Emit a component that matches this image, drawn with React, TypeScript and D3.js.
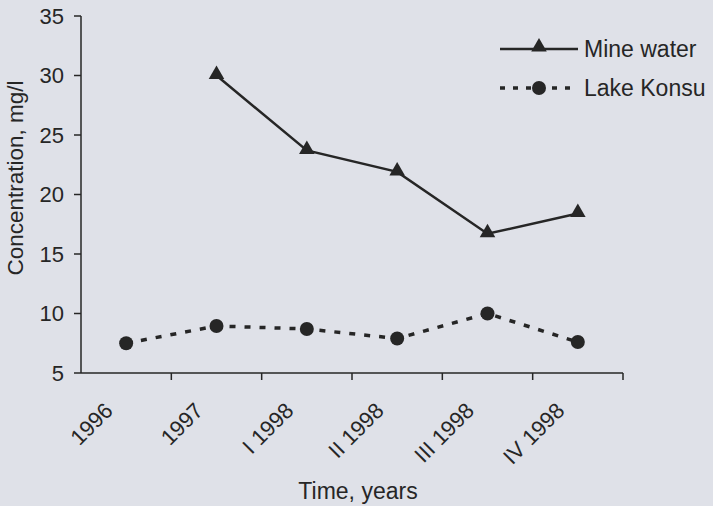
import React from "react";
import * as d3 from "d3";

const categories = ["1996", "1997", "I 1998", "II 1998", "III 1998", "IV 1998"];
const mineWater: (number | null)[] = [null, 30.0, 23.7, 21.9, 16.7, 18.4];
const lakeKonsu: number[] = [7.5, 8.95, 8.7, 7.9, 10.0, 7.6];
const yTicks = [5, 10, 15, 20, 25, 30, 35];
const seriesNames = ["Mine water", "Lake Konsu"];

const W = 713;
const H = 506;
const FONT = "'Liberation Sans', Arial, Helvetica, sans-serif";
const INK = "#262626";
const BG = "#dfe1e8";

export default function App() {
  const x = d3.scaleBand<string>().domain(categories).range([81, 623]).padding(0);
  const y = d3.scaleLinear().domain([5, 35]).range([373, 16]);
  const cx = (c: string) => (x(c) as number) + x.bandwidth() / 2;

  const mineLine = d3
    .line<number | null>()
    .defined((d) => d !== null)
    .x((_, i) => cx(categories[i]))
    .y((d) => y(d as number));
  const lakeLine = d3
    .line<number>()
    .x((_, i) => cx(categories[i]))
    .y((d) => y(d));

  const tri = d3.symbol().type(d3.symbolTriangle).size(105)() as string;
  const boundaries = categories.map((c) => (x(c) as number) + x.bandwidth());

  const legendX0 = 500;
  const legendX1 = 578;
  const legendMid = 539;
  const legendY = [49, 88];

  return (
    <div style={{ position: "fixed", left: 0, top: 0 }}>
      <svg width={W} height={H} style={{ display: "block", background: BG }} fontFamily={FONT}>
        <rect x={0} y={0} width={W} height={H} fill={BG} />
        {/* Y axis */}
        <line x1={81} x2={81} y1={y(35)} y2={y(5)} stroke={INK} strokeWidth={1.5} />
        {yTicks.map((t) => (
          <g key={t}>
            <line x1={74} x2={81} y1={y(t)} y2={y(t)} stroke={INK} strokeWidth={1.5} />
            <text x={64} y={y(t)} dy="0.36em" textAnchor="end" fontSize={22} fill={INK}>
              {t}
            </text>
          </g>
        ))}
        {/* X axis */}
        <line x1={81} x2={623} y1={y(5)} y2={y(5)} stroke={INK} strokeWidth={1.5} />
        {boundaries.map((b, i) => (
          <line key={i} x1={b} x2={b} y1={y(5)} y2={y(5) + 7} stroke={INK} strokeWidth={1.5} />
        ))}
        {categories.map((c) => (
          <text
            key={c}
            transform={`translate(${cx(c) - 12},${412}) rotate(-45)`}
            textAnchor="end"
            fontSize={22}
            fill={INK}
          >
            {c}
          </text>
        ))}
        {/* Axis titles */}
        <text x={358} y={499} textAnchor="middle" fontSize={23} fill={INK}>
          Time, years
        </text>
        <text
          transform={`translate(${23},${178}) rotate(-90)`}
          textAnchor="middle"
          fontSize={22.5}
          fill={INK}
        >
          Concentration, mg/l
        </text>
        {/* Mine water series */}
        <path d={mineLine(mineWater) as string} fill="none" stroke={INK} strokeWidth={2.5} />
        {mineWater.map((v, i) =>
          v === null ? null : (
            <path key={i} d={tri} transform={`translate(${cx(categories[i])},${y(v) - 1})`} fill={INK} />
          )
        )}
        {/* Lake Konsu series */}
        <path
          d={lakeLine(lakeKonsu) as string}
          fill="none"
          stroke={INK}
          strokeWidth={3.5}
          strokeDasharray="6,9"
        />
        {lakeKonsu.map((v, i) => (
          <circle key={i} cx={cx(categories[i])} cy={y(v)} r={7} fill={INK} />
        ))}
        {/* Legend */}
        <line x1={legendX0} x2={legendX1} y1={legendY[0]} y2={legendY[0]} stroke={INK} strokeWidth={2.5} />
        <path d={tri} transform={`translate(${legendMid},${legendY[0] - 2})`} fill={INK} />
        <text x={584} y={legendY[0]} dy="0.36em" fontSize={23} fill={INK}>
          {seriesNames[0]}
        </text>
        <line
          x1={legendX0}
          x2={legendX1}
          y1={legendY[1]}
          y2={legendY[1]}
          stroke={INK}
          strokeWidth={3.5}
          strokeDasharray="5,8"
        />
        <circle cx={legendMid} cy={legendY[1]} r={7} fill={INK} />
        <text x={584} y={legendY[1]} dy="0.36em" fontSize={23} fill={INK}>
          {seriesNames[1]}
        </text>
      </svg>
    </div>
  );
}
